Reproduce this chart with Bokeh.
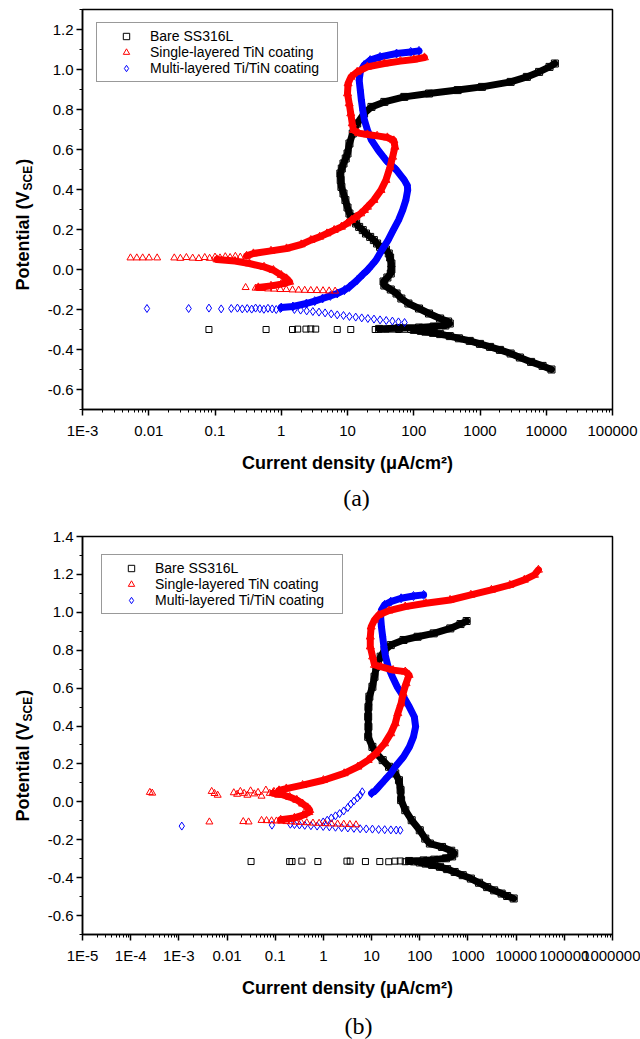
import math
from bokeh.plotting import figure
from bokeh.models import FixedTicker, CustomJSTickFormatter, Label, Legend, LegendItem
from bokeh.layouts import column, row
from bokeh.embed import file_html
from bokeh.resources import INLINE

SANS = "Liberation Sans"
SERIF = "Liberation Serif"
BLACK, RED, BLUE = "#000000", "#ff0000", "#0000ff"

legend_labels = ["Bare SS316L", "Single-layered TiN coating", "Multi-layered Ti/TiN coating"]
x_title = "Current density (\u03bcA/cm\u00b2)"
y_title_main, y_title_sub, y_title_end = "Potential (V", "SCE", ")"

# ---------------- panel (a) ----------------
a_xticks = [1e-3, 1e-2, 1e-1, 1.0, 10.0, 100.0, 1000.0, 10000.0, 100000.0]
a_xtick_labels = ["1E-3", "0.01", "0.1", "1", "10", "100", "1000", "10000", "100000"]
a_yticks = [-0.6, -0.4, -0.2, 0.0, 0.2, 0.4, 0.6, 0.8, 1.0, 1.2]
a_ytick_labels = ["-0.6", "-0.4", "-0.2", "0.0", "0.2", "0.4", "0.6", "0.8", "1.0", "1.2"]

a_bare_cath_x = [12000, 8800, 5900, 4000, 2900, 2000, 1420, 1000, 700, 480, 350, 250, 195, 150, 128, 100]
a_bare_cath_y = [-0.500, -0.482, -0.462, -0.440, -0.420, -0.402, -0.387, -0.372, -0.357, -0.344, -0.333, -0.323, -0.317, -0.311, -0.307, -0.302]
a_bare_ecorr_x = [0.081, 0.59, 1.48, 1.77, 2.36, 2.79, 3.31, 7.0, 11.2, 26.2, 38.4, 47.6, 58.8, 72.7, 90]
a_bare_ecorr_y = [-0.300, -0.300, -0.300, -0.298, -0.298, -0.297, -0.298, -0.300, -0.300, -0.300, -0.299, -0.298, -0.300, -0.299, -0.300]
a_bare_anod_x = [30, 60, 120, 200, 300, 350, 330, 250, 170, 120, 83, 65, 55, 45, 36, 35, 40, 45, 46, 46,
                 44, 42, 38, 31, 28, 25, 22, 19, 17, 15, 13.5, 12.3, 11.4, 10.7, 10.0, 9.3, 8.7, 8.1, 7.9, 7.8,
                 8.2, 8.7, 9.4, 10.0, 10.7, 12.0, 14.0, 17.8, 23, 36, 72, 170, 460, 1070, 2900, 5100, 7800, 11200, 13500]
a_bare_anod_y = [-0.297, -0.293, -0.290, -0.285, -0.280, -0.270, -0.260, -0.245, -0.220, -0.195,
                 -0.170, -0.145, -0.120, -0.100, -0.080, -0.060, -0.040, -0.020, 0.000, 0.030,
                 0.060, 0.080, 0.100, 0.113, 0.130, 0.147, 0.163, 0.180, 0.197, 0.213,
                 0.230, 0.247, 0.263, 0.280, 0.310, 0.347, 0.380, 0.413, 0.447, 0.480,
                 0.505, 0.530, 0.555, 0.580, 0.630, 0.680, 0.730, 0.780, 0.813, 0.838,
                 0.863, 0.880, 0.897, 0.913, 0.938, 0.963, 0.988, 1.013, 1.030]

a_tin_cath_x = [6.5, 5.28, 4.27, 3.45, 2.79, 2.26, 1.83, 1.48, 1.19, 0.97, 0.78, 0.63, 0.51, 0.41, 0.29]
a_tin_cath_y = [-0.108, -0.107, -0.106, -0.105, -0.105, -0.104, -0.103, -0.102, -0.100, -0.100, -0.098, -0.097, -0.095, -0.093, -0.090]
a_tin_lobe_x = [0.45, 0.70, 1.00, 1.34, 1.20, 1.00, 0.76, 0.55, 0.33, 0.20, 0.107]
a_tin_lobe_y = [-0.090, -0.082, -0.073, -0.062, -0.045, -0.028, -0.003, 0.013, 0.030, 0.042, 0.050]
a_tin_ecorr_x = [0.0053, 0.0066, 0.0081, 0.0101, 0.0134, 0.0243, 0.030, 0.037, 0.046, 0.057, 0.070, 0.083, 0.100, 0.119, 0.143, 0.169, 0.203, 0.241]
a_tin_ecorr_y = [0.058, 0.058, 0.058, 0.058, 0.058, 0.058, 0.056, 0.060, 0.057, 0.055, 0.060, 0.056, 0.062, 0.058, 0.064, 0.060, 0.066, 0.062]
a_tin_anod_x = [0.30, 0.38, 0.70, 1.2, 2.0, 2.8, 3.8, 4.9, 6.3, 8.1, 9.8, 11.5, 13.5, 15.8, 18, 20, 25, 32, 38, 44,
                48, 52, 50, 40, 28, 20, 14.6, 12.3, 11.8, 11.2, 10.6, 10.0, 10.2, 11.3, 14, 20, 36, 63, 100, 145]
a_tin_anod_y = [0.068, 0.080, 0.093, 0.105, 0.125, 0.147, 0.163, 0.180, 0.197, 0.213,
                0.230, 0.247, 0.263, 0.280, 0.297, 0.313, 0.347, 0.397, 0.447, 0.513,
                0.563, 0.613, 0.645, 0.660, 0.668, 0.675, 0.682, 0.697, 0.730, 0.780,
                0.830, 0.880, 0.930, 0.963, 0.988, 1.013, 1.030, 1.042, 1.050, 1.060]

a_ml_cath_x = [72.7, 58.8, 47.6, 38.4, 31, 25.1, 20.3, 16.4, 13.3, 10.7, 8.7, 7.0, 5.68, 4.59, 3.71, 3.0, 2.42, 1.96, 1.58]
a_ml_cath_y = [-0.265, -0.262, -0.258, -0.255, -0.252, -0.248, -0.245, -0.242, -0.238, -0.235, -0.230, -0.227, -0.222, -0.217, -0.213, -0.210, -0.207, -0.203, -0.200]
a_ml_ecorr_x = [0.0094, 0.040, 0.081, 0.124, 0.176, 0.218, 0.258, 0.306, 0.358, 0.41, 0.475, 0.547, 0.63, 0.73, 0.84, 0.97]
a_ml_ecorr_y = [-0.195, -0.195, -0.193, -0.197, -0.195, -0.193, -0.197, -0.195, -0.198, -0.193, -0.196, -0.199, -0.194, -0.197, -0.200, -0.195]
a_ml_anod_x = [1.0, 1.5, 2.4, 3.2, 4.2, 5.5, 7.0, 9.0, 10.7, 14, 17, 20, 23, 27, 33, 41, 49, 59, 68, 76,
               81, 80, 72, 55, 38, 29, 23, 20, 18, 17, 16.2, 15.6, 15.0, 15.6, 17.8, 22, 31, 55, 90, 120]
a_ml_anod_y = [-0.190, -0.185, -0.170, -0.158, -0.145, -0.132, -0.120, -0.103, -0.087, -0.053,
               -0.025, -0.003, 0.020, 0.047, 0.097, 0.147, 0.197, 0.247, 0.297, 0.347,
               0.397, 0.420, 0.447, 0.497, 0.547, 0.597, 0.647, 0.697, 0.747, 0.797,
               0.847, 0.897, 0.947, 0.988, 1.022, 1.047, 1.063, 1.080, 1.088, 1.093]

# ---------------- panel (b) ----------------
b_xticks = [1e-5, 1e-4, 1e-3, 1e-2, 1e-1, 1.0, 10.0, 100.0, 1000.0, 10000.0, 100000.0, 1000000.0]
b_xtick_labels = ["1E-5", "1E-4", "1E-3", "0.01", "0.1", "1", "10", "100", "1000", "10000", "100000", "1000000"]
b_yticks = [-0.6, -0.4, -0.2, 0.0, 0.2, 0.4, 0.6, 0.8, 1.0, 1.2, 1.4]
b_ytick_labels = ["-0.6", "-0.4", "-0.2", "0.0", "0.2", "0.4", "0.6", "0.8", "1.0", "1.2", "1.4"]

b_bare_cath_x = [8900, 6500, 5000, 3500, 2500, 1700, 1150, 780, 530, 370, 263, 180, 133, 100]
b_bare_cath_y = [-0.510, -0.497, -0.484, -0.467, -0.450, -0.427, -0.405, -0.387, -0.370, -0.355, -0.343, -0.333, -0.326, -0.320]
b_bare_ecorr_x = [0.0315, 0.199, 0.223, 0.357, 0.767, 3.08, 3.6, 7.45, 14.8, 22.7, 30.5, 39.4, 49.9, 60.7, 73.8, 89.7]
b_bare_ecorr_y = [-0.315, -0.315, -0.315, -0.313, -0.315, -0.313, -0.313, -0.315, -0.315, -0.316, -0.313, -0.312, -0.316, -0.314, -0.317, -0.315]
b_bare_anod_x = [60, 120, 200, 350, 470, 520, 450, 290, 162, 130, 100, 68, 50, 41, 40, 37, 31, 23, 17, 12.6,
                 10.4, 8.5, 8.6, 8.5, 8.6, 9.0, 10.4, 11.5, 12.6, 15.4, 18.6, 25, 46, 90, 195, 430, 700, 940]
b_bare_anod_y = [-0.312, -0.309, -0.305, -0.298, -0.288, -0.272, -0.258, -0.238, -0.220, -0.194,
                 -0.150, -0.097, -0.044, 0.009, 0.062, 0.114, 0.150, 0.185, 0.220, 0.255,
                 0.290, 0.343, 0.396, 0.449, 0.500, 0.555, 0.607, 0.660, 0.713, 0.766,
                 0.800, 0.827, 0.854, 0.871, 0.889, 0.915, 0.938, 0.954]

b_tin_cath_x = [4.75, 3.54, 2.64, 1.97, 1.47, 1.09, 0.814, 0.607, 0.452, 0.343, 0.272, 0.215, 0.17, 0.134, 0.106, 0.084, 0.066, 0.052, 0.028, 0.0217, 0.0043]
b_tin_cath_y = [-0.121, -0.119, -0.118, -0.117, -0.116, -0.115, -0.113, -0.112, -0.110, -0.108, -0.107, -0.105, -0.104, -0.102, -0.101, -0.100, -0.099, -0.098, -0.106, -0.104, -0.106]
b_tin_lobe_x = [0.13, 0.25, 0.38, 0.50, 0.52, 0.47, 0.37, 0.28, 0.20, 0.14, 0.09]
b_tin_lobe_y = [-0.095, -0.085, -0.070, -0.055, -0.044, -0.030, -0.010, 0.010, 0.025, 0.038, 0.045]
b_tin_ecorr_x = [0.00025, 0.00028, 0.0048, 0.0055, 0.0064, 0.0138, 0.0162, 0.0189, 0.0226, 0.0264, 0.0308, 0.0368, 0.044, 0.052, 0.064, 0.077, 0.094, 0.115]
b_tin_ecorr_y = [0.050, 0.046, 0.055, 0.044, 0.035, 0.048, 0.040, 0.055, 0.045, 0.035, 0.058, 0.042, 0.050, 0.030, 0.062, 0.045, 0.055, 0.035]
b_tin_anod_x = [0.12, 0.17, 0.37, 1.0, 2.7, 5.2, 8.5, 12.2, 18.6, 25, 31, 35, 41, 45, 52, 60, 50, 28, 15.5, 11.5,
                10.5, 9.4, 9.4, 9.8, 11.5, 14, 23, 50, 133, 425, 1150, 3070, 7400, 14800, 24000, 29000]
b_tin_anod_y = [0.060, 0.070, 0.088, 0.114, 0.150, 0.185, 0.220, 0.255, 0.308, 0.361,
                0.414, 0.467, 0.519, 0.572, 0.625, 0.669, 0.687, 0.695, 0.713, 0.722,
                0.766, 0.819, 0.871, 0.924, 0.960, 0.986, 1.009, 1.030, 1.048, 1.065,
                1.092, 1.118, 1.144, 1.171, 1.197, 1.224]

b_ml_cath_x = [39.4, 32.4, 25.1, 18.7, 14, 10.4, 7.75, 5.78, 4.3, 3.21, 2.39, 1.78, 1.33, 0.99, 0.74, 0.55, 0.41, 0.318, 0.251, 0.206, 0.0855, 0.00115]
b_ml_cath_y = [-0.150, -0.149, -0.148, -0.147, -0.146, -0.144, -0.143, -0.142, -0.140, -0.138, -0.136, -0.134, -0.132, -0.130, -0.128, -0.126, -0.124, -0.122, -0.120, -0.118, -0.123, -0.128]
b_ml_low_x = [0.99, 1.2, 1.46, 1.78, 2.17, 2.64, 3.21, 3.7, 4.3, 5.1, 5.8, 6.4]
b_ml_low_y = [-0.106, -0.097, -0.085, -0.074, -0.062, -0.048, -0.030, -0.012, 0.004, 0.021, 0.035, 0.053]
b_ml_anod_x = [10, 12, 14, 18.6, 25, 31, 46, 61, 74, 82, 77, 61, 46, 34, 27, 22, 19.5, 18, 17, 16,
               15.4, 16, 18.6, 25, 41, 74, 120]
b_ml_anod_y = [0.045, 0.060, 0.079, 0.114, 0.150, 0.185, 0.238, 0.290, 0.343, 0.396,
               0.449, 0.500, 0.555, 0.607, 0.660, 0.713, 0.766, 0.819, 0.871, 0.924,
               0.977, 1.012, 1.039, 1.056, 1.074, 1.086, 1.092]


def tick_formatter(vals, labs, log):
    code = """
    let best = -1, bd = Infinity;
    for (let i = 0; i < vals.length; i++) {
      const d = LOG ? Math.abs(Math.log10(vals[i]) - Math.log10(tick)) : Math.abs(vals[i] - tick);
      if (d < bd) { bd = d; best = i; }
    }
    return (best >= 0 && bd < 1e-6) ? labs[best] : "";
    """.replace("LOG", "true" if log else "false")
    return CustomJSTickFormatter(args=dict(vals=vals, labs=labs), code=code)


def style_axis(ax, standoff):
    ax.axis_line_width = 1.5
    ax.axis_line_color = "black"
    ax.major_tick_out = 6
    ax.major_tick_in = 0
    ax.major_tick_line_width = 1.5
    ax.major_tick_line_color = "black"
    ax.minor_tick_out = 3
    ax.minor_tick_in = 0
    ax.minor_tick_line_width = 1
    ax.minor_tick_line_color = "black"
    ax.major_label_text_font = SANS
    ax.major_label_text_font_size = "15px"
    ax.major_label_text_color = "black"
    ax.major_label_standoff = standoff


def text_strip(width, height):
    f = figure(width=width, height=height, x_range=(0, 1), y_range=(0, 1), min_border=0,
               x_axis_location=None, y_axis_location=None,
               output_backend="svg", toolbar_location=None)
    f.xgrid.visible = False
    f.ygrid.visible = False
    f.outline_line_color = None
    f.background_fill_color = "white"
    f.border_fill_color = "white"
    return f


def y_title_strip(height, y0):
    f = text_strip(38, height)
    w_main = 5.501 * 18
    w_sub = 2.056 * 12
    common = dict(x_units="screen", y_units="screen", angle=math.pi / 2, text_align="left",
                  text_baseline="middle", text_font=SANS, text_font_style="bold", text_color="black")
    f.add_layout(Label(x=22, y=y0, text=y_title_main, text_font_size="18px", **common))
    f.add_layout(Label(x=27, y=y0 + w_main + 1, text=y_title_sub, text_font_size="12px", **common))
    f.add_layout(Label(x=22, y=y0 + w_main + w_sub + 2, text=y_title_end, text_font_size="18px", **common))
    return f


def caption_strip(height, text, cx, cy):
    f = text_strip(640, height)
    f.add_layout(Label(x=cx, y=cy, x_units="screen", y_units="screen", text=text,
                       text_align="center", text_baseline="middle",
                       text_font=SERIF, text_font_size="24px", text_color="black"))
    return f


def make_panel(x_range, y_range, xticks, xlabels, yticks, ylabels, height, top, bottom,
               series, legend_loc):
    p = figure(width=602, height=height, x_axis_type="log", x_range=x_range, y_range=y_range,
               min_border_left=44, min_border_right=28, min_border_top=top, min_border_bottom=bottom,
               output_backend="svg", toolbar_location=None)
    p.xgrid.visible = False
    p.ygrid.visible = False
    p.outline_line_color = "black"
    p.outline_line_width = 1.5
    p.outline_line_alpha = 1.0
    p.background_fill_color = "white"
    p.border_fill_color = "white"

    lo, hi = round(math.log10(xticks[0])), round(math.log10(xticks[-1]))
    p.xaxis.ticker = FixedTicker(ticks=xticks,
                                 minor_ticks=[m * 10.0 ** e for e in range(lo, hi) for m in range(2, 10)])
    p.xaxis.formatter = tick_formatter(xticks, xlabels, True)
    n = int(round((y_range[1] - y_range[0]) * 10))
    p.yaxis.ticker = FixedTicker(ticks=yticks,
                                 minor_ticks=[round(y_range[0] + 0.1 * i, 2) for i in range(n + 1)])
    p.yaxis.formatter = tick_formatter(yticks, ylabels, False)
    style_axis(p.xaxis[0], 6)
    style_axis(p.yaxis[0], 3)

    p.xaxis.axis_label = x_title
    p.xaxis.axis_label_text_font = SANS
    p.xaxis.axis_label_text_font_style = "bold"
    p.xaxis.axis_label_text_font_size = "18px"
    p.xaxis.axis_label_text_color = "black"
    p.xaxis.axis_label_standoff = 11

    legend_renderers = {}
    for s in series:
        c, mk, sz = s["color"], s["marker"], s["size"]
        for (xs, ys) in s["lines"]:
            p.line(xs, ys, line_width=7, line_color=c, line_join="round", line_cap="round")
            p.scatter(xs, ys, marker=mk, size=sz + 1, fill_color=None, line_color=c, line_width=1)
        first = None
        for (xs, ys) in s["dots"]:
            r = p.scatter(xs, ys, marker=mk, size=sz, fill_color=None, line_color=c, line_width=1)
            if first is None:
                first = r
        legend_renderers[s["label"]] = first

    legend = Legend(items=[LegendItem(label=lab, renderers=[legend_renderers[lab]]) for lab in legend_labels],
                    location=legend_loc, orientation="vertical",
                    border_line_color="#333333", border_line_width=1,
                    background_fill_color="white", background_fill_alpha=1.0,
                    label_text_font=SANS, label_text_font_size="14px", label_text_color="black",
                    glyph_width=48, glyph_height=16, label_height=16, label_width=182, spacing=0,
                    padding=5, margin=0, label_standoff=0)
    p.add_layout(legend)
    return p


series_a = [
    dict(label=legend_labels[0], color=BLACK, marker="square", size=6,
         lines=[(a_bare_cath_x, a_bare_cath_y), (a_bare_anod_x, a_bare_anod_y)],
         dots=[(a_bare_ecorr_x, a_bare_ecorr_y)]),
    dict(label=legend_labels[2], color=BLUE, marker="diamond", size=8,
         lines=[(a_ml_anod_x, a_ml_anod_y)],
         dots=[(a_ml_ecorr_x, a_ml_ecorr_y), (a_ml_cath_x, a_ml_cath_y)]),
    dict(label=legend_labels[1], color=RED, marker="triangle", size=7,
         lines=[(a_tin_lobe_x, a_tin_lobe_y), (a_tin_anod_x, a_tin_anod_y)],
         dots=[(a_tin_ecorr_x, a_tin_ecorr_y), (a_tin_cath_x, a_tin_cath_y)]),
]
series_b = [
    dict(label=legend_labels[0], color=BLACK, marker="square", size=6,
         lines=[(b_bare_cath_x, b_bare_cath_y), (b_bare_anod_x, b_bare_anod_y)],
         dots=[(b_bare_ecorr_x, b_bare_ecorr_y)]),
    dict(label=legend_labels[2], color=BLUE, marker="diamond", size=8,
         lines=[(b_ml_anod_x, b_ml_anod_y)],
         dots=[(b_ml_cath_x, b_ml_cath_y), (b_ml_low_x, b_ml_low_y)]),
    dict(label=legend_labels[1], color=RED, marker="triangle", size=7,
         lines=[(b_tin_lobe_x, b_tin_lobe_y), (b_tin_anod_x, b_tin_anod_y)],
         dots=[(b_tin_ecorr_x, b_tin_ecorr_y), (b_tin_cath_x, b_tin_cath_y)]),
]

# panel (a): 0..479, frame 9..409 ; caption strip 479..517
pa = make_panel((1e-3, 1e5), (-0.7, 1.3), a_xticks, a_xtick_labels, a_yticks, a_ytick_labels,
                height=479, top=9, bottom=70, series=series_a, legend_loc=(14, 327))
ya = y_title_strip(479, 119)
cap_a = caption_strip(38, "(a)", 356, 20)

# panel (b): 517..1000, frame 536..934 ; caption strip 1000..1039
pb = make_panel((1e-5, 1e6), (-0.7, 1.4), b_xticks, b_xtick_labels, b_yticks, b_ytick_labels,
                height=483, top=19, bottom=66, series=series_b, legend_loc=(19, 320))
yb = y_title_strip(483, 113)
cap_b = caption_strip(39, "(b)", 358, 14)

layout = column(row(ya, pa, spacing=0), cap_a, row(yb, pb, spacing=0), cap_b, spacing=0)
open("out.html", "w").write(file_html(layout, INLINE))
